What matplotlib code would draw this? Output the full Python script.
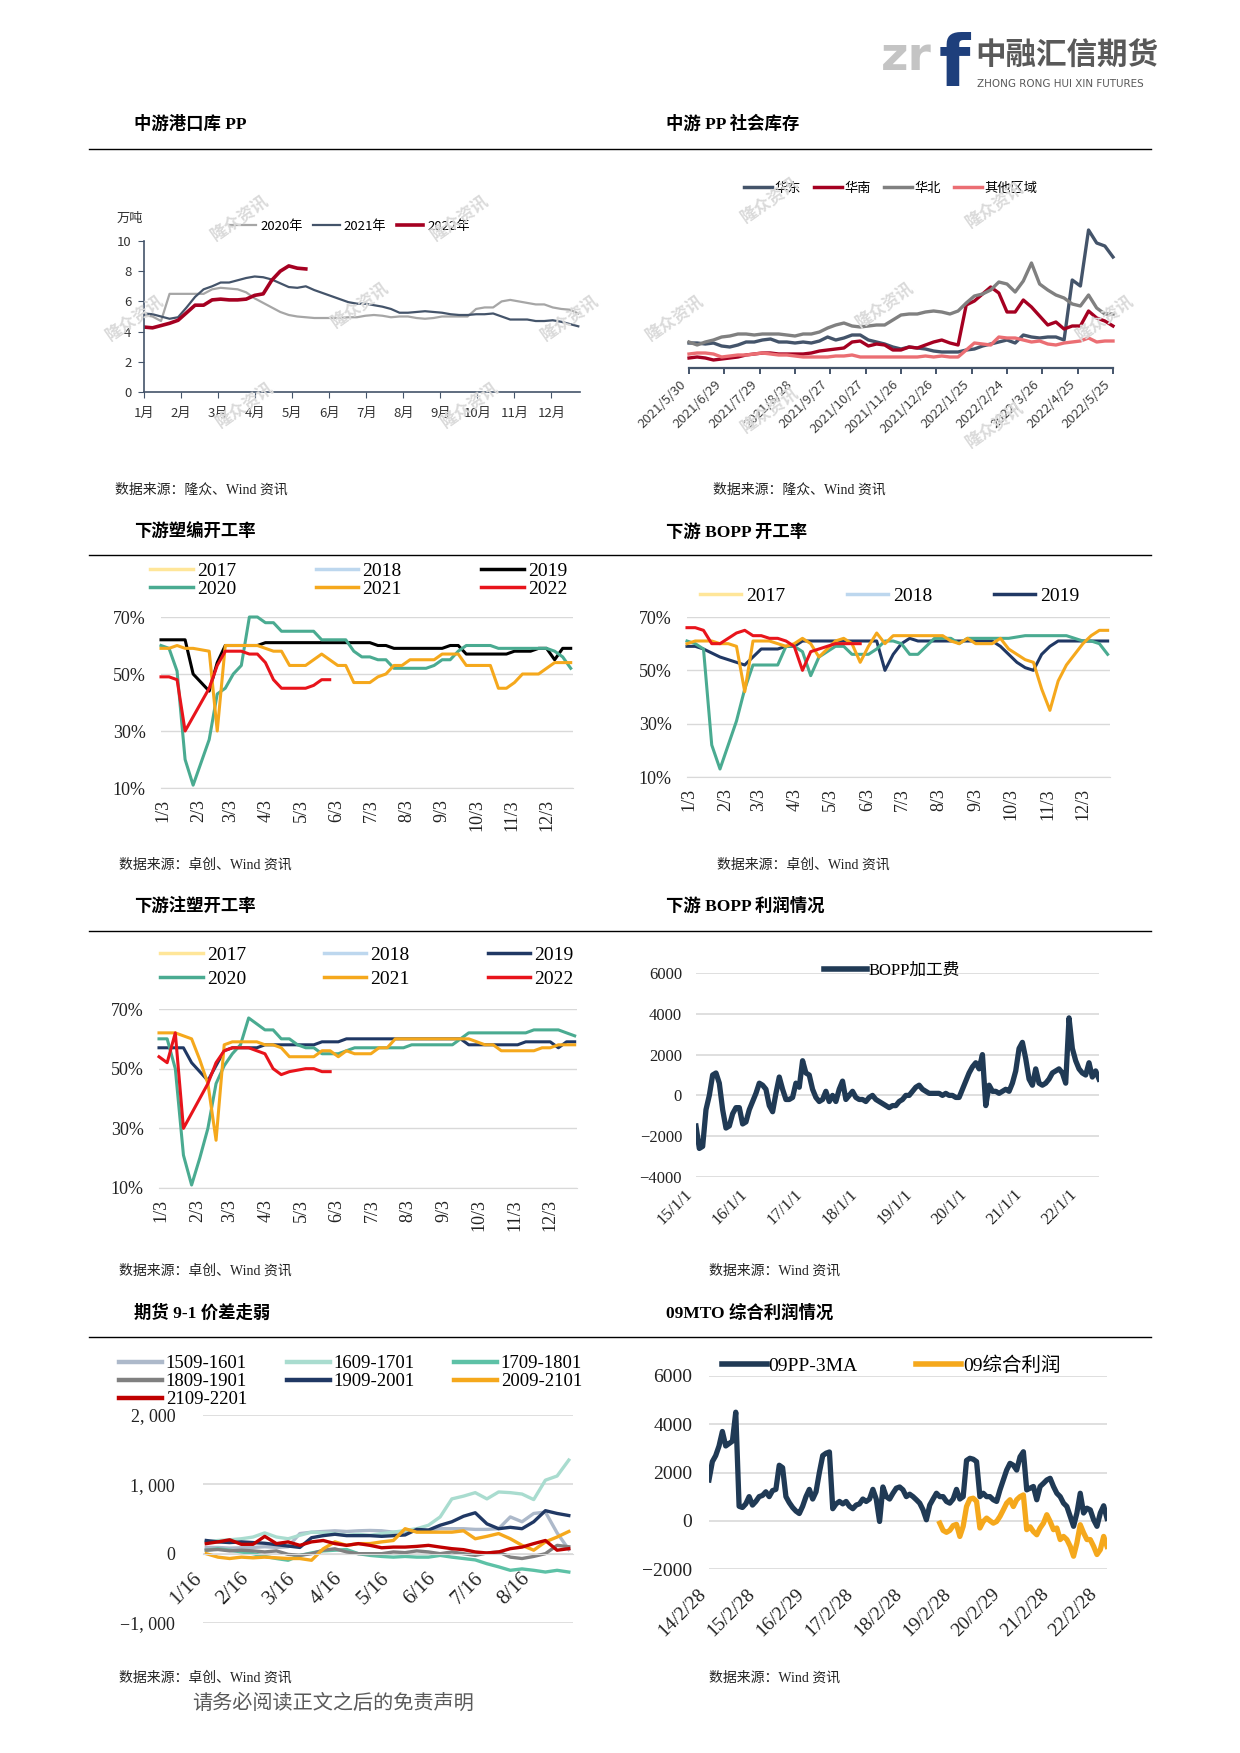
import numpy as np
import pandas as pd
import matplotlib
matplotlib.use('Agg')
import matplotlib.pyplot as plt
from matplotlib.lines import Line2D

W, H = 1240, 1753
SANS = ['Noto Sans CJK SC', 'DejaVu Sans']
SERIF = ['Liberation Serif', 'Noto Sans CJK SC', 'DejaVu Sans']
plt.rcParams['font.family'] = SANS
plt.rcParams['axes.unicode_minus'] = True

# ---------------- data ----------------
# 中游港口库 PP (万吨), weekly
port_2020 = [5.1, 5.0, 4.7, 6.5, 6.5, 6.5, 6.5, 6.5, 6.8, 6.9, 6.85, 6.8, 6.6, 6.2, 5.9, 5.6, 5.3, 5.1,
             5.0, 4.95, 4.9, 4.9, 4.9, 4.9, 4.95, 4.95, 5.05, 5.1, 5.05, 4.95, 5.0, 5.0, 4.9, 4.85, 4.9,
             5.0, 5.0, 5.0, 5.0, 5.5, 5.6, 5.6, 6.0, 6.1, 6.0, 5.9, 5.8, 5.8, 5.6, 5.5, 5.45, 5.2]
port_2021 = [5.2, 5.15, 5.0, 4.85, 4.95, 5.6, 6.3, 6.8, 7.0, 7.25, 7.25, 7.4, 7.55, 7.65, 7.6, 7.45, 7.2,
             6.95, 6.9, 7.0, 6.75, 6.55, 6.35, 6.15, 5.95, 5.85, 5.85, 5.75, 5.65, 5.5, 5.25, 5.25, 5.3,
             5.35, 5.3, 5.25, 5.15, 5.1, 5.1, 5.15, 5.15, 5.2, 5.0, 4.8, 4.8, 4.8, 4.7, 4.7, 4.75, 4.65,
             4.5, 4.35]
port_2022 = [4.3, 4.25, 4.4, 4.55, 4.75, 5.25, 5.75, 5.75, 6.1, 6.15, 6.1, 6.1, 6.15, 6.4, 6.5, 7.4,
             8.0, 8.35, 8.2, 8.15]
months_cn = ['1月', '2月', '3月', '4月', '5月', '6月', '7月', '8月', '9月', '10月', '11月', '12月']

# 中游 PP 社会库存, weekly 2021/5/30 - 2022/5/25
soc_east = [2.5, 2.5, 2.4, 2.5, 2.2, 2.1, 2.3, 2.6, 2.6, 2.8, 2.9, 2.6, 2.6, 2.5, 2.6, 2.5, 2.7, 3.1,
            2.8, 3.0, 3.3, 3.3, 2.8, 2.6, 2.4, 2.1, 1.9, 2.1, 2.0, 1.9, 1.7, 1.6, 1.6, 1.6, 1.8, 1.9,
            2.2, 2.4, 2.6, 2.8, 2.5, 3.3, 3.1, 3.0, 3.1, 3.1, 2.8, 8.8, 8.2, 13.8, 12.5, 12.2, 11.1]
soc_south = [1.0, 1.1, 1.0, 0.8, 0.9, 1.0, 1.1, 1.3, 1.4, 1.5, 1.5, 1.4, 1.4, 1.4, 1.4, 1.5, 1.7, 1.8,
             1.9, 2.0, 2.6, 2.7, 2.2, 2.4, 2.3, 1.8, 1.8, 2.1, 2.0, 2.3, 2.6, 2.8, 2.5, 2.3, 6.3, 6.7,
             7.4, 8.1, 7.5, 5.6, 5.6, 6.8, 6.1, 5.2, 4.3, 4.6, 3.9, 4.2, 4.2, 5.7, 5.0, 4.7, 4.2]
soc_north = [2.6, 2.3, 2.6, 2.8, 3.1, 3.2, 3.4, 3.4, 3.3, 3.4, 3.4, 3.4, 3.3, 3.2, 3.4, 3.4, 3.6, 4.0,
             4.3, 4.5, 4.2, 4.1, 4.2, 4.3, 4.3, 4.8, 5.3, 5.4, 5.4, 5.6, 5.7, 5.6, 5.4, 5.7, 6.5, 7.2,
             7.4, 7.8, 8.6, 8.4, 7.6, 8.7, 10.5, 8.4, 7.8, 7.3, 7.0, 6.4, 6.2, 7.3, 6.0, 5.4, 5.4]
soc_other = [1.4, 1.5, 1.5, 1.4, 1.1, 1.2, 1.3, 1.3, 1.4, 1.5, 1.4, 1.3, 1.3, 1.2, 1.1, 1.1, 1.1, 1.1,
             1.2, 1.2, 1.3, 1.1, 1.1, 1.1, 1.1, 1.1, 1.1, 1.1, 1.1, 1.2, 1.1, 1.2, 1.1, 1.1, 1.8, 2.5,
             2.4, 2.3, 3.1, 3.0, 3.0, 2.8, 2.6, 2.7, 2.4, 2.3, 2.5, 2.6, 2.7, 3.0, 2.6, 2.7, 2.7]
soc_dates = pd.date_range('2021-05-30', '2022-05-25', periods=len(soc_east))
soc_ticks = pd.date_range('2021-05-30', periods=13, freq='30D')

# 开工率 (%), weekly, x = days after 1/3
tick_days = [0, 31, 59, 90, 120, 151, 181, 212, 243, 273, 304, 334]
tick_md = ['1/3', '2/3', '3/3', '4/3', '5/3', '6/3', '7/3', '8/3', '9/3', '10/3', '11/3', '12/3']

bw_2019 = [62, 62, 62, 62, 50, 47, 44, 54, 60, 60, 60, 60, 60] + [61] * 14 + [60, 60] + [59] * 7 + \
          [60, 60] + [57] * 6 + [58, 58, 58, 59, 59, 55, 59, 59]
bw_2020 = [60, 59, 51, 20, 11, 19, 27, 43, 45, 50, 53, 70, 70, 68, 68, 65, 65, 65, 65, 65, 62, 62, 62, 62,
           58, 56, 56, 55, 55, 52, 52, 52, 52, 52, 53, 55, 55, 58, 60, 60, 60, 60, 59, 59, 59, 59, 59, 59,
           59, 58, 56, 52]
bw_2021 = [59, 59, 60, 59, 59, 58.5, 58, 30, 60, 60, 60, 60, 60, 59, 58, 58, 53, 53, 53, 55, 57, 55, 53,
           53, 47, 47, 47, 49, 50, 53, 53, 55, 55, 55, 55, 57, 57, 57, 53, 53, 53, 53, 45, 45, 47, 50, 50,
           50, 52, 54, 54, 54]
bw_2022 = [49, 49, 48, 30, 35, 40, 45, 53, 58, 58, 58, 57, 57, 54, 48, 45, 45, 45, 45, 46, 48, 48]

bo_2019 = [59, 59, 58, 56.5, 55, 54, 53, 52, 55, 58, 58, 58, 59, 59] + [61] * 10 + [50, 56, 60, 62] + \
          [61] * 10 + [59, 56, 53, 51, 50, 56, 59] + [61] * 7
bo_2020 = [61, 60, 58, 22, 13, 22, 31, 43, 52, 52, 52, 52, 59, 59, 57, 48, 55, 57, 59, 59, 56, 56, 56, 58,
           61, 61, 60, 56, 56, 59, 62, 62, 62, 60, 62, 62, 62, 62, 62, 62, 62.5, 63, 63, 63, 63, 63, 63,
           62, 61, 61, 60, 56]
bo_2021 = [60, 61, 61, 61, 60, 60, 59, 42, 61, 61, 61, 60, 59, 60, 62, 60, 55, 58, 61, 62, 60, 53, 59, 64,
           60, 63, 63, 63, 63, 63, 63, 63, 61, 60, 62, 60, 60, 60, 62, 58, 56, 54, 53, 43, 35, 46, 52, 56,
           60, 63, 65, 65]
bo_2022 = [66, 66, 65, 60, 60, 62, 64, 65, 63, 63, 62, 62, 61, 59, 50, 57, 58, 59, 60, 60, 60, 60]

iz_2019 = [57, 57, 57, 57, 52, 49, 46, 51, 56, 57, 57, 57, 57] + [58] * 7 + [59] * 3 + [60] * 15 + \
          [58] * 7 + [59] * 4 + [57, 59, 59]
iz_2020 = [60, 60, 50, 21, 11, 20, 30, 45, 51, 55, 58, 67, 65, 63, 63, 60, 60, 58, 57, 57, 55, 55, 55, 56,
           57, 57, 57, 57, 57, 57, 57, 58, 58, 58, 58, 58, 58, 60, 62, 62, 62, 62, 62, 62, 62, 62, 63, 63,
           63, 63, 62, 61]
iz_2021 = [62, 62, 62, 61, 60, 53, 45, 26, 58, 59, 59, 59, 59, 58, 58, 57, 54, 54, 54, 54, 56, 56, 54, 56,
           55, 55, 55, 57, 57, 60, 60, 60, 60, 60, 60, 60, 60, 60, 60, 59, 58, 58, 56, 56, 56, 56, 56, 57,
           57, 58, 58, 58]
iz_2022 = [54, 52, 62, 30, 35, 40, 45, 52, 56, 57, 57, 57, 56, 55, 50, 48, 49, 49.5, 50, 50, 49, 49]

# BOPP 加工费
bopp_fee = [-1500, -2600, -2500, -700, 0, 1000, 1100, 600, -700, -1600,
            -1500, -900, -600, -600, -1400, -1300, -700, -300, 100, 600,
            500, 300, -500, -800, 100, 900, 300, -200, -200, -100,
            600, 400, 1700, 1100, 1000, 300, -100, -300, -200, 200,
            -300, 0, -300, 300, 700, -200, 0, 200, -100, -200,
            -200, -300, -100, 0, -200, -300, -400, -500, -600, -500,
            -500, -300, -200, 0, 0, 200, 400, 500, 300, 200,
            100, 100, 100, 100, 0, 100, 0, 0, -100, -100,
            300, 700, 1100, 1400, 1600, 1300, 2000, -500, 500, 200,
            200, 100, 200, 300, 200, 600, 1200, 2300, 2600, 1800,
            800, 500, 1300, 600, 500, 600, 800, 1100, 1200, 1300,
            1100, 600, 3800, 2300, 1700, 1300, 1100, 1000, 1600, 900,
            1200, 800]
bopp_dates = pd.date_range('2015-01-01', '2022-05-08', periods=len(bopp_fee))
bopp_ticks = pd.to_datetime(['%d-01-01' % y for y in range(2015, 2023)])
bopp_lbl = ['%d/1/1' % (y - 2000) for y in range(2015, 2023)]

# 期货 9-1 价差, x = months after 1/16
spread_x = np.arange(32) * 0.25
spread_names = ['1509-1601', '1609-1701', '1709-1801', '1809-1901', '1909-2001', '2009-2101', '2109-2201']
s1509 = [90, 90, 80, 85, 90, 100, 90, 100, 290, 310, 320, 330, 320, 330, 335, 330, 310, 320, 330, 340,
         360, 360, 360, 350, 350, 360, 530, 460, 580, 600, 300, 60]
s1609 = [170, 190, 200, 215, 240, 300, 240, 215, 265, 310, 300, 290, 265, 280, 265, 290, 310, 335, 360,
         410, 530, 790, 830, 880, 790, 890, 880, 860, 780, 1060, 1120, 1350]
s1709 = [50, 70, 50, 25, 0, -40, -70, -95, -25, 10, 40, 50, 60, 0, -25, -40, -50, -40, -50, -50, -25,
         -50, -70, -90, -145, -190, -240, -220, -240, -265, -240, -265]
s1809 = [50, 60, 40, 50, 40, 25, 40, -10, -25, 0, 50, 70, 25, 0, 0, 0, 25, 15, 40, 25, 0, 25, 0, -25, 10,
         25, -50, -70, -40, 0, 120, 100]
s1909 = [190, 170, 160, 170, 160, 150, 130, 110, 90, 230, 260, 280, 260, 260, 260, 250, 260, 270, 350,
         340, 410, 460, 540, 590, 430, 360, 380, 360, 460, 620, 580, 550]
s2009 = [0, -50, -70, -50, -60, -50, -60, -70, -70, -95, 70, 170, 120, 145, 145, 170, 190, 360, 310, 310,
         310, 310, 330, 215, 250, 290, 215, 120, 50, 170, 240, 320]
s2109 = [145, 170, 200, 135, 135, 250, 145, 170, 120, 170, 190, 145, 120, 145, 120, 85, 95, 95, 105, 120,
         95, 72, 58, 25, 10, 25, 72, 95, 145, 190, 50, 72]
spread_lbl = ['1/16', '2/16', '3/16', '4/16', '5/16', '6/16', '7/16', '8/16']

# 09MTO 综合利润
pp3ma = [1690, 2450, 2700, 3100, 3700, 3100, 3200, 3300, 4500, 600,
         550, 700, 1000, 650, 800, 1000, 1050, 1200, 1000, 1250,
         1300, 2300, 2200, 1000, 750, 550, 400, 300, 600, 1000,
         1300, 900, 1200, 2000, 2700, 2800, 2850, 500, 700, 800,
         700, 800, 600, 500, 650, 700, 900, 800, 900, 1300,
         900, -30, 1400, 1000, 900, 1140, 1350, 1400, 1280, 1000,
         1100, 1000, 870, 730, 450, 40, 650, 900, 1140, 1000,
         1000, 800, 730, 900, 1300, 900, 1000, 2500, 2590, 2550,
         2450, 1000, 1140, 1000, 1000, 870, 800, 1280, 1690, 2100,
         2380, 2300, 2100, 2650, 2860, 1280, 1350, 1420, 870, 1420,
         1550, 1690, 1760, 1420, 1140, 1000, 730, 590, 180, -230,
         320, 1140, 320, 520, 450, 40, -230, 320, 620, 100]
mto_profit = [-100, -400, -480, -400, -200, -150, -650, -230, 590, 900,
              935, 800, -300, -30, 110, 0, -100, -30, 180, 450,
              730, 870, 590, 870, 1000, 1070, -370, -250, -450, -580,
              -300, -100, 250, -30, -370, -300, -780, -650, -780, -1060,
              -1470, -920, -165, -500, -780, -780, -1060, -1400, -1200, -650, -1060]
mto_dates = pd.date_range('2014-02-22', periods=len(pp3ma), freq='25D')
mto_ticks = pd.to_datetime(['2014-02-28', '2015-02-28', '2016-02-29', '2017-02-28', '2018-02-28',
                            '2019-02-28', '2020-02-29', '2021-02-28', '2022-02-28'])
mto_lbl = ['14/2/28', '15/2/28', '16/2/29', '17/2/28', '18/2/28', '19/2/28', '20/2/29', '21/2/28', '22/2/28']

# ---------------- colours ----------------
C17, C18, C19K, C19N = '#FFE699', '#BDD7EE', '#000000', '#203864'
C20, C21, C22 = '#4AAB91', '#F5A81C', '#E8141B'

fig = plt.figure(figsize=(W / 100, H / 100), dpi=100)


def box(l, t, r, b):
    return fig.add_axes([l / W, 1 - b / H, (r - l) / W, (b - t) / H])


def txt(x, y, s, **kw):
    kw.setdefault('va', 'center')
    fig.text(x / W, 1 - y / H, s, **kw)


def hline(y, x0=89, x1=1151):
    fig.add_artist(Line2D([x0 / W, x1 / W], [1 - y / H] * 2, color='black', lw=1))


def legend_px(ax, handles, labels, x, y, ncol, size, family, **kw):
    ax.legend(handles, labels, loc='upper left', bbox_to_anchor=(x / W, 1 - y / H),
              bbox_transform=fig.transFigure, ncol=ncol, frameon=False, borderpad=0,
              borderaxespad=0, prop={'family': family, 'size': size}, **kw)


def lh(color, lw=2.5):
    return Line2D([], [], color=color, lw=lw)


# ---------------- header / frame ----------------
txt(881, 70, 'zr', fontsize=34, fontweight='bold', color='#C4C4C4', family=['DejaVu Sans'], va='baseline')
txt(939, 86, 'f', fontsize=52, fontweight='bold', color='#1E3F7C', family=['DejaVu Sans'], va='baseline')
txt(975, 56, '中融汇信期货', fontsize=22, fontweight='bold', color='#595959')
txt(977, 84, 'ZHONG RONG HUI XIN FUTURES', fontsize=7.5, color='#595959', family=['DejaVu Sans'])

titles = [(134, 124, '中游港口库 PP'), (666, 124, '中游 PP 社会库存'),
          (134, 532, '下游塑编开工率'), (666, 532, '下游 BOPP 开工率'),
          (134, 906, '下游注塑开工率'), (666, 906, '下游 BOPP 利润情况'),
          (134, 1313, '期货 9-1 价差走弱'), (666, 1313, '09MTO 综合利润情况')]
for x, y, s in titles:
    txt(x, y, s, fontsize=12.5, fontweight='bold', color='black', family=SERIF)
for y in [149, 555, 931, 1337]:
    hline(y)
sources = [(115, 490, '数据来源：隆众、Wind 资讯'), (713, 490, '数据来源：隆众、Wind 资讯'),
           (119, 865, '数据来源：卓创、Wind 资讯'), (717, 865, '数据来源：卓创、Wind 资讯'),
           (119, 1271, '数据来源：卓创、Wind 资讯'), (709, 1271, '数据来源：Wind 资讯'),
           (119, 1678, '数据来源：卓创、Wind 资讯'), (709, 1678, '数据来源：Wind 资讯')]
for x, y, s in sources:
    txt(x, y, s, fontsize=10, color='#222222', family=SERIF)
txt(192, 1703, '请务必阅读正文之后的免责声明', fontsize=14.5, color='#595959')

# watermarks
for x, y in [(240, 218), (135, 318), (360, 305), (245, 405), (460, 218), (470, 405), (570, 318),
             (770, 200), (675, 318), (885, 305), (770, 410), (995, 205), (995, 425), (1105, 318)]:
    txt(x, y, '隆众资讯', fontsize=12, fontweight='bold', color='#DADADA', rotation=35, ha='center')

# ---------------- chart 1: 中游港口库 PP ----------------
ax = box(144, 241, 580, 392)
ax.plot(range(len(port_2020)), port_2020, color='#A6A6A6', lw=1.6)
ax.plot(range(len(port_2021)), port_2021, color='#44546A', lw=1.6)
ax.plot(range(len(port_2022)), port_2022, color='#A50021', lw=2.6)
ax.set_xlim(0, 51.2)
ax.set_ylim(0, 10)
ax.set_yticks(range(0, 11, 2))
ax.set_xticks([m * 52.18 / 12 for m in range(12)])
ax.set_xticklabels(months_cn)
for s in ['top', 'right']:
    ax.spines[s].set_visible(False)
for s in ['left', 'bottom']:
    ax.spines[s].set_color('#44546A')
    ax.spines[s].set_linewidth(1.2)
ax.tick_params(direction='out', length=4, color='#44546A', labelsize=9.5, labelcolor='#333333', pad=5)
ax.tick_params(axis='x', pad=7)
txt(117, 218, '万吨', fontsize=9.5, color='#333333')
legend_px(ax, [lh('#A6A6A6', 1.6), lh('#44546A', 1.6), lh('#A50021', 2.6)], ['2020年', '2021年', '2022年'],
          230, 220, 3, 9.5, SANS, handlelength=2.0, handletextpad=0.3, columnspacing=0.8)

# ---------------- chart 2: 中游 PP 社会库存 ----------------
ax = box(689, 218, 1113, 368)
soc_cols = ['#44546A', '#A50021', '#808080', '#EB6E73']
for vals, c in zip([soc_east, soc_south, soc_north, soc_other], soc_cols):
    ax.plot(soc_dates, vals, color=c, lw=2.4, clip_on=False)
ax.set_xlim(soc_dates[0], soc_dates[-1])
ax.set_ylim(0, 15)
ax.set_yticks([])
ax.set_xticks(soc_ticks)
ax.set_xticklabels(['%d/%d/%d' % (d.year, d.month, d.day) for d in soc_ticks], rotation=45, ha='right')
for s in ['top', 'right', 'left']:
    ax.spines[s].set_visible(False)
ax.spines['bottom'].set_color('#44546A')
ax.spines['bottom'].set_linewidth(1.6)
ax.tick_params(axis='x', direction='out', length=4, width=1.4, color='#44546A', labelsize=9.5,
               labelcolor='#404040', pad=3)
legend_px(ax, [lh(c) for c in soc_cols], ['华东', '华南', '华北', '其他区域'], 744, 182, 4, 9.5, SANS,
          handlelength=2.1, handletextpad=0.2, columnspacing=1.0)

# ---------------- charts 3-5: 开工率 ----------------
week_days = [-2 + 7 * i for i in range(52)]


def rate_chart(box_px, series, leg_handles, leg_labels, leg_xy, leg_kw):
    a = box(*box_px)
    for vals, c in series:
        a.plot(week_days[:len(vals)], vals, color=c, lw=2.2, clip_on=False)
    a.set_xlim(-2, 357)
    a.set_ylim(10, 70)
    a.set_yticks([10, 30, 50, 70])
    a.set_yticklabels(['10%', '30%', '50%', '70%'])
    a.set_xticks(tick_days)
    a.set_xticklabels(tick_md, rotation=90)
    a.grid(axis='y', color='#D9D9D9', lw=1)
    a.set_axisbelow(True)
    for s in ['top', 'right', 'left']:
        a.spines[s].set_visible(False)
    a.spines['bottom'].set_color('#D9D9D9')
    a.tick_params(length=0, labelsize=13, labelfontfamily=SERIF, labelcolor='#222222')
    a.tick_params(axis='y', pad=11)
    a.tick_params(axis='x', pad=8)
    legend_px(a, leg_handles, leg_labels, leg_xy[0], leg_xy[1], 3, 14, SERIF, **leg_kw)
    return a


def order6(h):
    return [h[0], h[3], h[1], h[4], h[2], h[5]]


yrs = ['2017', '2018', '2019', '2020', '2021', '2022']
rate_chart((161, 617, 573, 788),
           [(bw_2019, C19K), (bw_2020, C20), (bw_2021, C21), (bw_2022, C22)],
           order6([lh(C17), lh(C18), lh(C19K), lh(C20), lh(C21), lh(C22)]), order6(yrs),
           (150, 562), dict(handlelength=2.2, handletextpad=0.2, columnspacing=4.1, labelspacing=0.05))

rate_chart((687, 617, 1110, 777),
           [(bo_2019, C19N), (bo_2020, C20), (bo_2021, C21), (bo_2022, C22)],
           [lh(C17), lh(C18), lh(C19N)], yrs[:3],
           (700, 587), dict(handlelength=2.1, handletextpad=0.25, columnspacing=3.2))

rate_chart((159, 1009, 577, 1188),
           [(iz_2019, C19N), (iz_2020, C20), (iz_2021, C21), (iz_2022, C22)],
           order6([lh(C17), lh(C18), lh(C19N), lh(C20), lh(C21), lh(C22)]), order6(yrs),
           (160, 946), dict(handlelength=2.2, handletextpad=0.2, columnspacing=4.0, labelspacing=0.35))

# ---------------- chart 6: BOPP 加工费 ----------------
ax = box(696, 973, 1099, 1177)
ax.plot(bopp_dates, bopp_fee, color='#203A55', lw=3.8, solid_joinstyle='round')
ax.set_xlim(bopp_dates[0], bopp_dates[-1])
ax.set_ylim(-4000, 6000)
ax.set_yticks(range(-4000, 6001, 2000))
ax.set_yticklabels(['−4000', '−2000', '0', '2000', '4000', '6000'])
ax.set_xticks(bopp_ticks)
ax.set_xticklabels(bopp_lbl, rotation=45, ha='right')
ax.grid(axis='y', color='#D9D9D9', lw=1.2)
ax.set_axisbelow(True)
for s in ax.spines.values():
    s.set_visible(False)
ax.tick_params(length=0, labelsize=12, labelfontfamily=SERIF, labelcolor='#222222')
ax.tick_params(axis='y', pad=10)
ax.tick_params(axis='x', pad=7)
legend_px(ax, [lh('#203A55', 4)], ['BOPP加工费'], 824, 963, 1, 12, SERIF,
          handlelength=2.6, handletextpad=0.1)

# ---------------- chart 7: 9-1 价差 ----------------
ax = box(203, 1415, 573, 1623)
ax.spines['bottom'].set_position(('data', 0))
sp_cols = ['#ADB9CA', '#A9DCCF', '#5DC1A6', '#808080', '#203864', '#F5A81C', '#C00000']
for vals, c in zip([s1509, s1609, s1709, s1809, s1909, s2009, s2109], sp_cols):
    ax.plot(spread_x, vals, color=c, lw=2.4)
ax.set_xlim(-0.07, 7.84)
ax.set_ylim(-1000, 2000)
ax.set_yticks([-1000, 0, 1000, 2000])
ax.set_yticklabels(['−1, 000', '0', '1, 000', '2, 000'])
ax.set_xticks(range(8))
ax.set_xticklabels(spread_lbl, rotation=45, ha='right')
ax.grid(axis='y', color='#D9D9D9', lw=1.2)
ax.set_axisbelow(True)
for s in ['top', 'right', 'left']:
    ax.spines[s].set_visible(False)
ax.spines['bottom'].set_color('#D9D9D9')
ax.tick_params(length=0, labelsize=13, labelfontfamily=SERIF, labelcolor='#222222')
ax.tick_params(axis='y', pad=20)
ax.tick_params(axis='x', pad=11, labelsize=15)
hs = [lh(c, 3.2) for c in sp_cols]
order7 = [0, 3, 6, 1, 4, 2, 5]
legend_px(ax, [hs[i] for i in order7], [spread_names[i] for i in order7], 119, 1355, 3, 13.5, SERIF,
          handlelength=2.3, handletextpad=0.2, columnspacing=2.1, labelspacing=0.05)

# ---------------- chart 8: 09MTO 综合利润 ----------------
ax = box(709, 1376, 1107, 1569)
ax.plot(mto_dates, pp3ma, color='#203A55', lw=3.8)
ax.plot(mto_dates[69:69 + len(mto_profit)], mto_profit, color='#F5A81C', lw=3.8)
ax.set_xlim(mto_dates[0], mto_dates[-1])
ax.set_ylim(-2000, 6000)
ax.set_yticks(range(-2000, 6001, 2000))
ax.set_yticklabels(['−2000', '0', '2000', '4000', '6000'])
ax.set_xticks(mto_ticks)
ax.set_xticklabels(mto_lbl, rotation=45, ha='right')
ax.grid(axis='y', color='#D9D9D9', lw=1.2)
ax.set_axisbelow(True)
for s in ax.spines.values():
    s.set_visible(False)
ax.tick_params(length=0, labelsize=14, labelfontfamily=SERIF, labelcolor='#222222')
ax.tick_params(axis='y', pad=12)
ax.tick_params(axis='x', pad=12)
legend_px(ax, [lh('#203A55', 4), lh('#F5A81C', 4)], ['09PP-3MA', '09综合利润'], 722, 1356, 2, 14, SERIF,
          handlelength=2.3, handletextpad=0.1, columnspacing=3.0)

fig.savefig('out.png', dpi=100)
